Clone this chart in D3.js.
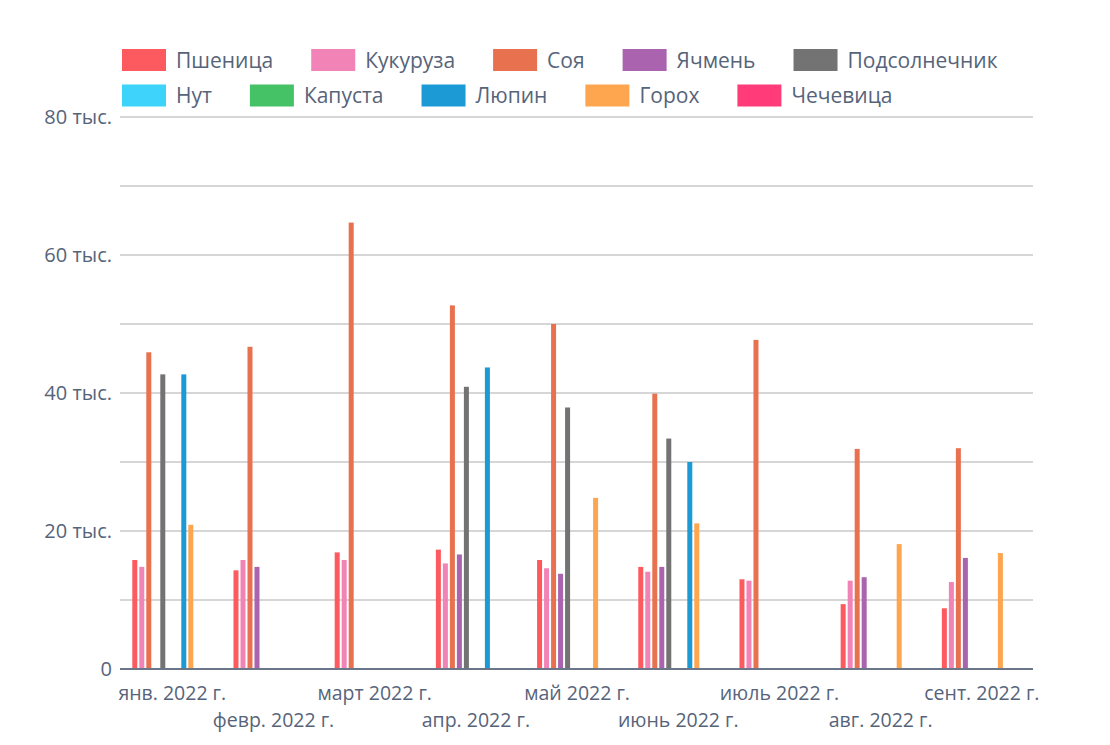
<!DOCTYPE html>
<html><head><meta charset="utf-8">
<script src="https://cdn.jsdelivr.net/npm/d3@7"></script>
<style>
html,body{margin:0;padding:0;background:#fff;}
svg{display:block;font-family:"Open Sans",sans-serif;}
</style></head>
<body>
<svg id="chart" width="1110" height="745"></svg>
<script>
const months = ["янв. 2022 г.","февр. 2022 г.","март 2022 г.","апр. 2022 г.","май 2022 г.","июнь 2022 г.","июль 2022 г.","авг. 2022 г.","сент. 2022 г."];
const seriesNames = ["Пшеница","Кукуруза","Соя","Ячмень","Подсолнечник","Нут","Капуста","Люпин","Горох","Чечевица"];
const seriesColors = ["#fc5a5f","#f283b6","#e8714f","#aa63ae","#737373","#3dd3fa","#45c265","#1c9ad6","#fea54f","#ff3b7a"];
const wheat     = [15800,14300,16900,17300,15800,14800,13000,9400,8800];
const corn      = [14800,15800,15800,15300,14600,14100,12800,12800,12600];
const soy       = [45900,46700,64700,52700,50000,39900,47700,31900,32000];
const barley    = [null,14800,null,16600,13800,14800,null,13300,16100];
const sunflower = [42700,null,null,40900,37900,33400,null,null,null];
const chickpea  = [null,null,null,null,null,null,null,null,null];
const cabbage   = [null,null,null,null,null,null,null,null,null];
const lupin     = [42700,null,null,43700,null,30000,null,null,null];
const peas      = [20900,null,null,null,24800,21100,null,18100,16800];
const lentil    = [null,null,null,null,null,null,null,null,null];
const yTicks    = [0,20000,40000,60000,80000];
const yGrid     = [10000,20000,30000,40000,50000,60000,70000,80000];

const seriesValues = [wheat,corn,soy,barley,sunflower,chickpea,cabbage,lupin,peas,lentil];
const svg = d3.select("#chart");
const textColor = "#56647a";

const plot = {left:120, right:1033, top:117, bottom:669};
const y = d3.scaleLinear().domain([0,80000]).range([plot.bottom, plot.top]);
const x0 = d3.scaleBand().domain(months).range([plot.left, plot.right])
  .paddingInner(0.308).paddingOuter(0.165).align(0.338);
const x1 = d3.scaleBand().domain(seriesNames).range([0, x0.bandwidth()])
  .paddingInner(2/7).paddingOuter(1/7);
const color = d3.scaleOrdinal().domain(seriesNames).range(seriesColors);

// gridlines
svg.append("g").selectAll("line").data(yGrid).join("line")
  .attr("x1", plot.left).attr("x2", plot.right)
  .attr("y1", d=>y(d)).attr("y2", d=>y(d))
  .attr("stroke", "#d6d6d6").attr("stroke-width", 2);

// y axis labels
const fmt = d => d === 0 ? "0" : (d/1000) + " тыс.";
const yAxis = d3.axisLeft(y).tickValues(yTicks).tickFormat(fmt).tickSize(0).tickPadding(8);
const yg = svg.append("g").attr("transform", `translate(${plot.left},0)`).call(yAxis);
yg.select(".domain").remove();
yg.selectAll("text").attr("fill", textColor).style("font-size","20px")
  .style("font-family","'Open Sans',sans-serif");

// bars
const flat = [];
months.forEach((m,i)=>{
  seriesNames.forEach((s,j)=>{
    const v = seriesValues[j][i];
    if (v != null) flat.push({m, s, v});
  });
});
svg.append("g").selectAll("rect").data(flat).join("rect")
  .attr("x", d=>x0(d.m)+x1(d.s))
  .attr("width", x1.bandwidth())
  .attr("y", d=>y(d.v))
  .attr("height", d=>y(0)-y(d.v))
  .attr("fill", d=>color(d.s));

// x axis line
svg.append("line").attr("x1", plot.left).attr("x2", plot.right)
  .attr("y1", y(0)).attr("y2", y(0)).attr("stroke","#6b7788").attr("stroke-width",2);

// x labels (alternating rows)
svg.append("g").selectAll("text").data(months).join("text")
  .attr("x", d=>x0(d)+x0.bandwidth()/2+6)
  .attr("y", (d,i)=> i%2===0 ? 700 : 727)
  .attr("text-anchor","middle")
  .attr("fill", textColor)
  .style("font-size","19.5px")
  .text(d=>d);

// legend: 5 per row, flowing
const legend = svg.append("g");
const perRow = 5;
let lx = 122;
seriesNames.forEach((s,j)=>{
  if (j % perRow === 0) lx = 122;
  const row = Math.floor(j/perRow);
  const ly = 49 + row*35.5;
  const g = legend.append("g").attr("transform", `translate(${lx},${ly})`);
  g.append("rect").attr("width",44).attr("height",22).attr("fill", color(s));
  const t = g.append("text").attr("x",54).attr("y",18.5).attr("fill",textColor)
    .style("font-size","21px").text(s);
  const w = t.node().getComputedTextLength();
  lx += 54 + w + 38;
});
</script>
</body></html>
